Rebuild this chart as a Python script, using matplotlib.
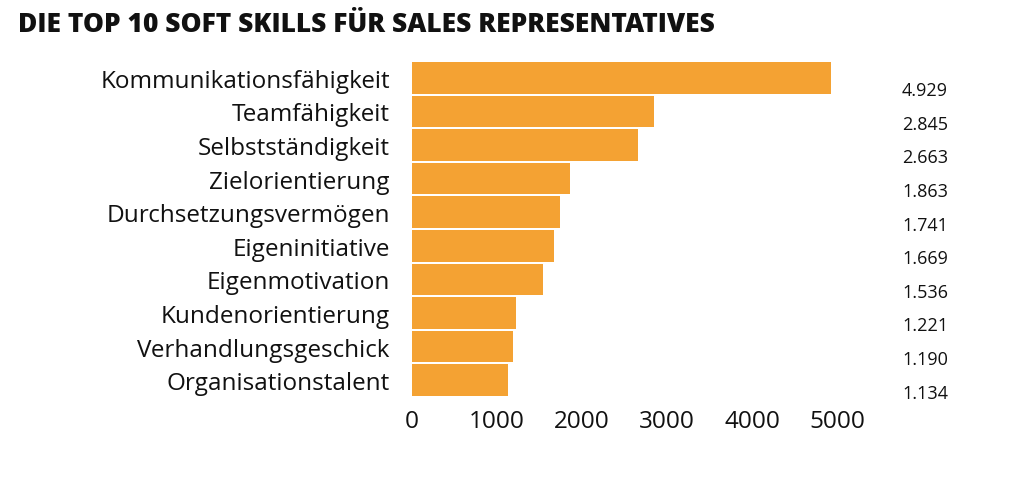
import matplotlib
matplotlib.use("Agg")
import matplotlib.pyplot as plt

categories = ["Kommunikationsfähigkeit", "Teamfähigkeit", "Selbstständigkeit", "Zielorientierung",
              "Durchsetzungsvermögen", "Eigeninitiative", "Eigenmotivation", "Kundenorientierung",
              "Verhandlungsgeschick", "Organisationstalent"]
values = [4929, 2845, 2663, 1863, 1741, 1669, 1536, 1221, 1190, 1134]
value_labels = ["4.929", "2.845", "2.663", "1.863", "1.741", "1.669", "1.536", "1.221", "1.190", "1.134"]
xticks = [0, 1000, 2000, 3000, 4000, 5000]

fig = plt.figure(figsize=(10.14, 4.89), dpi=100)
ax = fig.add_axes([412/1014, 1-398/489, (837-412)/1014, (398-62)/489])
y = list(range(len(categories)))
ax.barh(y, values, height=0.94, color="#F4A233")
ax.set_ylim(len(categories)-0.5, -0.5)
ax.set_xlim(0, 5000)
ax.set_yticks(y)
ax.set_yticklabels(categories, fontsize=17.5, fontfamily="Open Sans", color="#111111")
ax.set_xticks(xticks)
ax.set_xticklabels([str(t) for t in xticks], fontsize=17.5, fontfamily="Open Sans", color="#111111")
ax.tick_params(axis="y", length=0, pad=16)
ax.tick_params(axis="x", length=0, pad=9)
for s in ax.spines.values():
    s.set_visible(False)
for i, lab in enumerate(value_labels):
    ax.annotate(lab, xy=(925/1014, i), xycoords=("figure fraction", "data"),
                xytext=(0, -9), textcoords="offset points", ha="center", va="center",
                fontsize=13, fontfamily="Open Sans", color="#111111")
fig.text(18/1014, 1-25/489, "DIE TOP 10 SOFT SKILLS FÜR SALES REPRESENTATIVES", fontsize=19,
         fontweight="heavy", fontfamily="Open Sans", va="center", ha="left", color="#111111")
fig.savefig("out.png", dpi=100, facecolor="white")
